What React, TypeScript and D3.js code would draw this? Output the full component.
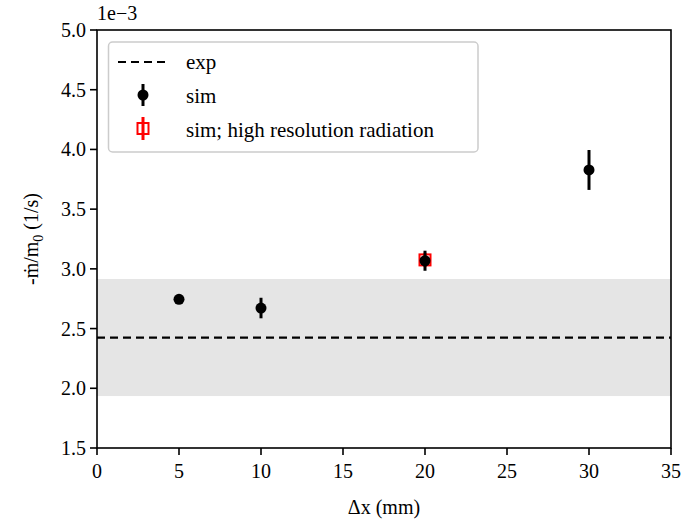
import React from "react";
import * as d3 from "d3";

// Simulated mass-loss rate vs. grid spacing
const simDx = [5, 10, 20, 30];
const simRate = [2.745, 2.672, 3.068, 3.828];
const simErr = [0.02, 0.086, 0.084, 0.167];

const hiResDx = [20];
const hiResRate = [3.075];
const hiResErr = [0.06];

const expRate = 2.425;
const expBand = [1.935, 2.915];

const xTicks = [0, 5, 10, 15, 20, 25, 30, 35];
const yTicks = [1.5, 2.0, 2.5, 3.0, 3.5, 4.0, 4.5, 5.0];

const W = 683;
const H = 523;
const M = { left: 97, right: 671, top: 30, bottom: 448 };
const FONT = "'Liberation Serif', 'Times New Roman', serif";
const txt = { fontFamily: FONT, fontSize: 20 } as React.CSSProperties;
const legTxt = { fontFamily: FONT, fontSize: 21 } as React.CSSProperties;

export default function App() {
  const x = d3.scaleLinear().domain([0, 35]).range([M.left, M.right]);
  const y = d3.scaleLinear().domain([1.5, 5.0]).range([M.bottom, M.top]);

  return (
    <svg width={W} height={H} style={{ position: "absolute", left: 0, top: 0, fontFamily: FONT }}>
      <rect width={W} height={H} fill="#fff" />
      {/* experimental uncertainty band */}
      <rect x={M.left} width={M.right - M.left} y={y(expBand[1])} height={y(expBand[0]) - y(expBand[1])} fill="#e5e5e5" />
      <line x1={M.left} x2={M.right} y1={y(expRate)} y2={y(expRate)} stroke="#000" strokeWidth={2.2} strokeDasharray="8,5" />

      {/* high-resolution radiation runs */}
      {hiResDx.map((d, i) => (
        <g key={"h" + i}>
          <line x1={x(d)} x2={x(d)} y1={y(hiResRate[i] - hiResErr[i])} y2={y(hiResRate[i] + hiResErr[i])} stroke="#f00" strokeWidth={3} />
          <rect x={x(d) - 5.5} y={y(hiResRate[i]) - 5.5} width={11} height={11} fill="none" stroke="#f00" strokeWidth={2} />
        </g>
      ))}

      {/* baseline simulations */}
      {simDx.map((d, i) => (
        <g key={"s" + i}>
          <line x1={x(d)} x2={x(d)} y1={y(simRate[i] - simErr[i])} y2={y(simRate[i] + simErr[i])} stroke="#000" strokeWidth={3} />
          <circle cx={x(d)} cy={y(simRate[i])} r={5.5} fill="#000" />
        </g>
      ))}

      {/* frame */}
      <rect x={M.left} y={M.top} width={M.right - M.left} height={M.bottom - M.top} fill="none" stroke="#000" strokeWidth={1.6} />

      {/* x axis */}
      {xTicks.map((t) => (
        <g key={"xt" + t}>
          <line x1={x(t)} x2={x(t)} y1={M.bottom} y2={M.bottom + 7} stroke="#000" strokeWidth={1.6} />
          <text x={x(t)} y={M.bottom + 30} style={txt} textAnchor="middle">{t}</text>
        </g>
      ))}
      <text x={(M.left + M.right) / 2} y={514} style={txt} textAnchor="middle">Δx (mm)</text>

      {/* y axis */}
      {yTicks.map((t) => (
        <g key={"yt" + t}>
          <line x1={M.left - 7} x2={M.left} y1={y(t)} y2={y(t)} stroke="#000" strokeWidth={1.6} />
          <text x={M.left - 11} y={y(t) + 7} style={txt} textAnchor="end">{t.toFixed(1)}</text>
        </g>
      ))}
      <text x={97} y={20} style={txt}>1e−3</text>
      <text transform={`translate(38,${(M.top + M.bottom) / 2}) rotate(-90)`} style={txt} textAnchor="middle">
        -ṁ/m<tspan style={{ fontSize: 14 }} dy={5}>0</tspan><tspan dy={-5}> (1/s)</tspan>
      </text>

      {/* legend */}
      <g>
        <rect x={108.5} y={42} width={369.5} height={110} rx={4} fill="#fff" fillOpacity={0.8} stroke="#ccc" strokeWidth={1.5} />
        <line x1={118} x2={167} y1={62} y2={62} stroke="#000" strokeWidth={2.2} strokeDasharray="8,5" />
        <text x={186} y={69} style={legTxt}>exp</text>
        <line x1={143} x2={143} y1={84} y2={106} stroke="#000" strokeWidth={3} />
        <circle cx={143} cy={95} r={5.5} fill="#000" />
        <text x={186} y={103} style={legTxt}>sim</text>
        <line x1={143} x2={143} y1={117} y2={140} stroke="#f00" strokeWidth={3} />
        <rect x={137.5} y={123} width={11} height={11} fill="none" stroke="#f00" strokeWidth={2} />
        <text x={186} y={137} style={legTxt}>sim; high resolution radiation</text>
      </g>
    </svg>
  );
}
